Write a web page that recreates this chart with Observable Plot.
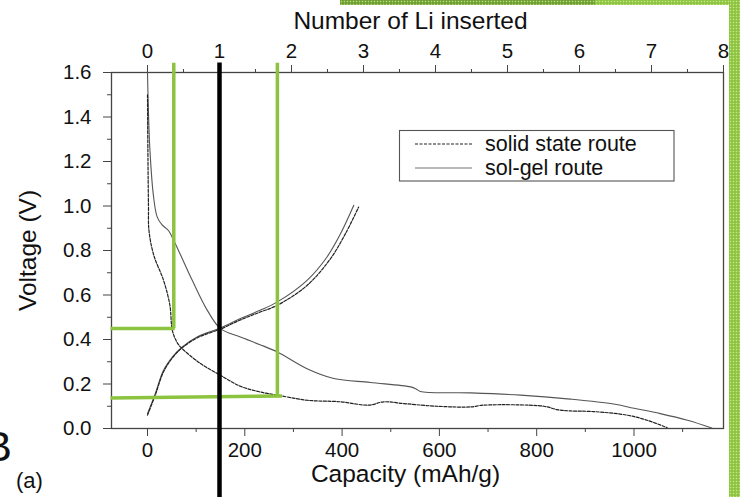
<!DOCTYPE html>
<html><head><meta charset="utf-8">
<script src="https://cdn.jsdelivr.net/npm/d3@7"></script>
<script src="https://cdn.jsdelivr.net/npm/@observablehq/plot@0.6"></script>
<style>
html,body{margin:0;padding:0;background:#fff;}
#wrap{position:relative;width:740px;height:497px;overflow:hidden;font-family:"Liberation Sans",Arial,sans-serif;}
#wrap > svg{position:absolute;left:0;top:0;}
.green{position:absolute;background-color:#8cc43f;background-image:radial-gradient(circle, rgba(205,235,150,0.85) 0.7px, transparent 1.1px);background-size:3px 3px;}
.greenDark{position:absolute;background-color:#6f9e32;background-image:radial-gradient(circle, rgba(190,225,130,0.9) 0.7px, transparent 1.1px);background-size:3px 3px;}
</style></head><body>
<div id="wrap"></div>
<script>
// ---- axis ticks ----
const capacityTicks = [0, 200, 400, 600, 800, 1000];
const capacityMinor = [100, 300, 500, 700, 900, 1100];
const liTicks = [0, 1, 2, 3, 4, 5, 6, 7, 8];
const liMinor = [0.5, 1.5, 2.5, 3.5, 4.5, 5.5, 6.5, 7.5];
const capPerLi = 148;
const voltTicks = [0, 0.2, 0.4, 0.6, 0.8, 1.0, 1.2, 1.4, 1.6];
const voltMinor = [0.1, 0.3, 0.5, 0.7, 0.9, 1.1, 1.3, 1.5];

// ---- series: sol-gel route (solid) ----
const sgDisCap = [0, 1, 3, 5, 12, 20, 30, 43, 55, 68, 92, 123, 150, 191, 230, 267, 328, 383, 458, 541, 552, 561, 664, 767, 869, 958, 1000, 1054, 1110, 1160];
const sgDisV   = [1.6, 1.5, 1.35, 1.25, 1.05, 0.95, 0.915, 0.89, 0.84, 0.78, 0.666, 0.531, 0.449, 0.411, 0.378, 0.344, 0.269, 0.225, 0.207, 0.187, 0.178, 0.166, 0.16, 0.15, 0.132, 0.11, 0.091, 0.067, 0.037, 0.002];
const sgChCap = [0, 16, 33, 54, 71, 102, 150, 191, 230, 267, 328, 369, 397, 424];
const sgChV   = [0.067, 0.157, 0.262, 0.329, 0.366, 0.411, 0.452, 0.494, 0.53, 0.569, 0.666, 0.771, 0.876, 1.003];

// ---- series: solid state route (dashed) ----
const ssDisCap = [0, 1, 2, 3, 13, 33, 46, 51, 60, 68, 109, 150, 191, 230, 267, 328, 397, 455, 486, 527, 595, 664, 691, 815, 842, 869, 917, 986, 1027, 1068];
const ssDisV   = [1.5, 1.2, 1.0, 0.89, 0.778, 0.666, 0.554, 0.441, 0.39, 0.366, 0.292, 0.239, 0.19, 0.165, 0.15, 0.127, 0.12, 0.105, 0.12, 0.112, 0.1, 0.097, 0.105, 0.1, 0.085, 0.079, 0.076, 0.06, 0.037, 0.004];
const ssChCap = [0, 16, 33, 54, 71, 102, 150, 191, 230, 267, 328, 376, 407, 434];
const ssChV   = [0.06, 0.15, 0.255, 0.325, 0.362, 0.407, 0.447, 0.488, 0.522, 0.554, 0.643, 0.763, 0.876, 0.995];

// ---- overlay annotations ----
const markerLi = [1];
const markerSpanV = [-0.31, 1.643];
const greenVCap = [54, 267];
const greenVBottomV = [0.449, 0.146];
const greenTopV = 1.642;
const greenH1Cap = [-76, 56];
const greenH1V = [0.449, 0.449];
const greenH2Cap = [-76, 277];
const greenH2V = [0.1375, 0.1465];

const legendLabels = ["solid state route", "sol-gel route"];
const legendDash = ["3,1.5", "none"];

const xTitle = "Capacity (mAh/g)";
const x2Title = "Number of Li inserted";
const yTitle = "Voltage (V)";

const zip = (c, v) => c.map((d, i) => ({cap: d, v: v[i]}));
const sgDis = zip(sgDisCap, sgDisV), sgCh = zip(sgChCap, sgChV);
const ssDis = zip(ssDisCap, ssDisV), ssCh = zip(ssChCap, ssChV);
const GREEN = "#8cc43f";
const AX = "#444";
const dash = "3,1.5";
const TF = 20.5;

const chart = Plot.plot({
  width: 740, height: 497,
  marginLeft: 111, marginRight: 17, marginTop: 72, marginBottom: 69,
  x: {domain: [-74, 1184]},
  y: {domain: [0, 1.6]},
  style: {fontFamily: '"Liberation Sans", Arial, sans-serif', fontSize: "20px", color: "#111", background: "transparent"},
  marks: [
    Plot.frame({stroke: AX, strokeWidth: 1.3}),
    Plot.axisY(voltTicks, {anchor: "left", tickSize: 8, tickPadding: 12, stroke: AX, fill: "#111", fontSize: TF, tickFormat: d3.format(".1f"), label: null}),
    Plot.axisY(voltMinor, {anchor: "left", tickSize: 4, stroke: AX, fill: "none", label: null}),
    Plot.axisX(capacityTicks, {anchor: "bottom", tickSize: 8, tickPadding: 6, stroke: AX, fill: "#111", fontSize: TF, tickFormat: d3.format("d"), label: null}),
    Plot.axisX(capacityMinor, {anchor: "bottom", tickSize: 4, stroke: AX, fill: "none", label: null}),
    Plot.axisX(liTicks.map(d => d * capPerLi), {anchor: "top", tickSize: 8, tickPadding: 7, stroke: AX, fill: "#111", fontSize: TF, tickFormat: d => String(Math.round(d / capPerLi)), label: null}),
    Plot.axisX(liMinor.map(d => d * capPerLi), {anchor: "top", tickSize: 4, stroke: AX, fill: "none", label: null}),
    Plot.line(sgDis, {x: "cap", y: "v", stroke: "#555", strokeWidth: 1.1, curve: "catmull-rom"}),
    Plot.line(sgCh, {x: "cap", y: "v", stroke: "#555", strokeWidth: 1.1, curve: "catmull-rom"}),
    Plot.line(ssDis, {x: "cap", y: "v", stroke: "#222", strokeWidth: 1.2, strokeDasharray: dash, curve: "catmull-rom"}),
    Plot.line(ssCh, {x: "cap", y: "v", stroke: "#222", strokeWidth: 1.2, strokeDasharray: dash, curve: "catmull-rom"}),
    Plot.ruleX(greenVCap.map((c, i) => ({c, b: greenVBottomV[i]})), {x: "c", y1: d => d.b, y2: () => greenTopV, stroke: GREEN, strokeWidth: 3.5}),
    Plot.line(zip(greenH1Cap, greenH1V), {x: "cap", y: "v", stroke: GREEN, strokeWidth: 3.5, strokeLinecap: "butt"}),
    Plot.line(zip(greenH2Cap, greenH2V), {x: "cap", y: "v", stroke: GREEN, strokeWidth: 3.5, strokeLinecap: "butt"}),
    Plot.ruleX(markerLi, {x: d => d * capPerLi, y1: () => markerSpanV[0], y2: () => markerSpanV[1], stroke: "#000", strokeWidth: 4.5}),
    Plot.text([x2Title], {text: d => d, frameAnchor: "top", lineAnchor: "middle", textAnchor: "middle", dy: -51, dx: -7, fontSize: 24.5, fill: "#111"}),
    Plot.text([xTitle], {text: d => d, frameAnchor: "bottom", lineAnchor: "middle", textAnchor: "middle", dy: 46, dx: -12, fontSize: 24.5, fill: "#111"}),
    Plot.text([yTitle], {text: d => d, frameAnchor: "left", lineAnchor: "middle", textAnchor: "middle", dx: -83, rotate: -90, fontSize: 24.5, fill: "#111"})
  ]
});

const wrap = document.getElementById("wrap");
wrap.appendChild(chart);

// legend overlay
const leg = d3.select(wrap).append("svg")
  .attr("width", 740).attr("height", 497)
  .style("font-family", '"Liberation Sans", Arial, sans-serif');
leg.append("rect").attr("x", 399.5).attr("y", 130.5).attr("width", 274.5).attr("height", 50.5)
  .attr("fill", "#fff").attr("stroke", "#555").attr("stroke-width", 1.1);
legendLabels.forEach((lab, i) => {
  const y = 144 + i * 24;
  leg.append("line").attr("x1", 415).attr("x2", 472).attr("y1", y).attr("y2", y)
    .attr("stroke", i === 0 ? "#222" : "#777").attr("stroke-width", 1.2)
    .attr("stroke-dasharray", legendDash[i]);
  leg.append("text").attr("x", 485).attr("y", y).attr("dominant-baseline", "central")
    .attr("font-size", 21.5).attr("fill", "#111").text(lab);
});
// panel labels
leg.append("text").attr("x", 12).attr("y", 461).attr("text-anchor", "end").attr("font-size", 43).attr("fill", "#111").text("B");
leg.append("text").attr("x", 16).attr("y", 488).attr("font-size", 22).attr("fill", "#111").text("(a)");

// slide decoration strips
const s1 = document.createElement("div"); s1.className = "greenDark";
Object.assign(s1.style, {left: "340px", top: "0px", width: "256px", height: "5px"}); wrap.appendChild(s1);
const s2 = document.createElement("div"); s2.className = "green";
Object.assign(s2.style, {left: "595px", top: "0px", width: "145px", height: "5px"}); wrap.appendChild(s2);
const s3 = document.createElement("div"); s3.className = "green";
Object.assign(s3.style, {left: "729px", top: "0px", width: "11px", height: "497px"}); wrap.appendChild(s3);
</script>
</body></html>
